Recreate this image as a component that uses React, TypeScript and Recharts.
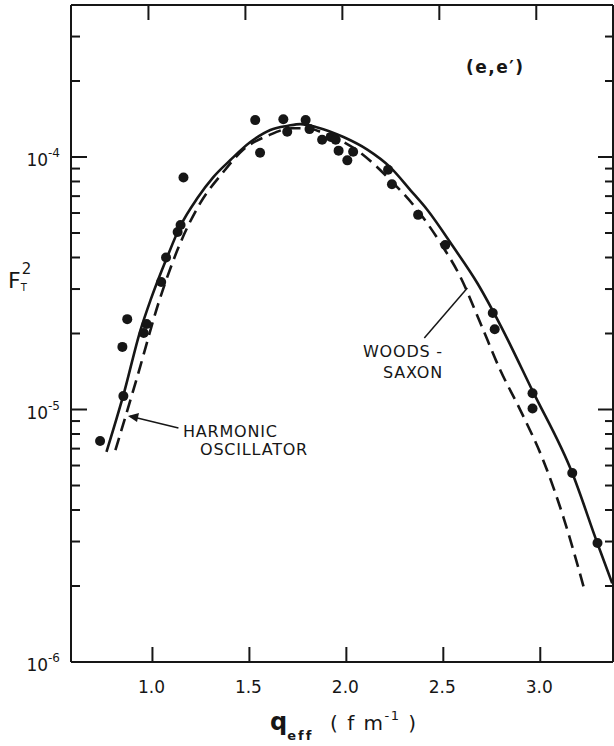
import { ComposedChart, Line, ReferenceLine, Scatter, XAxis, YAxis } from 'recharts';

// measured transverse form factor, (e,e') data
const obsQ = [0.73, 0.85, 0.845, 0.87, 0.955, 0.97, 1.045, 1.07, 1.13, 1.145, 1.16, 1.53, 1.555, 1.675, 1.695, 1.79, 1.81, 1.875, 1.92, 1.945, 1.96, 2.005, 2.035, 2.215, 2.235, 2.37, 2.51, 2.755, 2.765, 2.96, 2.96, 3.165, 3.295];
const obsF = [7.5e-6, 1.13e-5, 1.77e-5, 2.28e-5, 2.01e-5, 2.18e-5, 3.2e-5, 4.0e-5, 5.05e-5, 5.38e-5, 8.3e-5, 1.4e-4, 1.04e-4, 1.41e-4, 1.26e-4, 1.4e-4, 1.29e-4, 1.17e-4, 1.2e-4, 1.17e-4, 1.06e-4, 9.7e-5, 1.05e-4, 8.9e-5, 7.8e-5, 5.9e-5, 4.48e-5, 2.41e-5, 2.08e-5, 1.16e-5, 1.01e-5, 5.6e-6, 2.96e-6];

// Woods-Saxon calculation (solid)
const wsQ = [0.763, 0.85, 0.938, 0.99, 1.075, 1.144, 1.232, 1.314, 1.402, 1.505, 1.608, 1.7, 1.763, 1.851, 1.985, 2.108, 2.227, 2.33, 2.418, 2.552, 2.675, 2.794, 2.959, 3.165, 3.294, 3.371];
const wsF = [6.8e-6, 1.14e-5, 2.06e-5, 2.71e-5, 4.0e-5, 5.33e-5, 6.88e-5, 8.33e-5, 9.73e-5, 1.146e-4, 1.28e-4, 1.33e-4, 1.35e-4, 1.31e-4, 1.2e-4, 1.07e-4, 9.1e-5, 7.4e-5, 6.17e-5, 4.4e-5, 3.17e-5, 2.16e-5, 1.19e-5, 5.6e-6, 2.96e-6, 2.05e-6];

// harmonic oscillator calculation (dashed)
const hoQ = [0.809, 0.922, 1.036, 1.144, 1.247, 1.366, 1.469, 1.6, 1.72, 1.8, 1.881, 2.072, 2.211, 2.366, 2.485, 2.588, 2.691, 2.794, 2.897, 3.015, 3.119, 3.232];
const hoF = [6.9e-6, 1.35e-5, 2.71e-5, 4.57e-5, 6.58e-5, 8.73e-5, 1.07e-4, 1.22e-4, 1.3e-4, 1.3e-4, 1.245e-4, 1.04e-4, 8.33e-5, 6.17e-5, 4.57e-5, 3.35e-5, 2.2e-5, 1.43e-5, 9.95e-6, 6.3e-6, 3.75e-6, 1.88e-6];

const xTicks = [1.0, 1.5, 2.0, 2.5, 3.0];
const yMajor = [1e-6, 1e-5, 1e-4];
const yMinor = [
  2e-6, 3e-6, 4e-6, 5e-6, 6e-6, 7e-6, 8e-6, 9e-6,
  2e-5, 3e-5, 4e-5, 5e-5, 6e-5, 7e-5, 8e-5, 9e-5,
  2e-4, 3e-4,
];

// pointer lines from the curve names to the curves
const hoPointer = [{ x: 1.134, y: 8.45e-6 }, { x: 0.885, y: 9.4e-6 }];
const wsPointer = [{ x: 2.402, y: 1.92e-5 }, { x: 2.624, y: 3.03e-5 }];

const obs = obsQ.map((q, i) => ({ q, f: obsF[i] }));
const ws = wsQ.map((q, i) => ({ q, f: wsF[i] }));
const ho = hoQ.map((q, i) => ({ q, f: hoF[i] }));

const INK = '#161616';
const FONT = '"DejaVu Sans", sans-serif';
const Q_MIN = 0.58;
const Q_MAX = 3.375;
const F_MIN = 1e-6;
const F_MAX = 4e-4;

// inward ticks on the left frame, 10^-n on the decades
const LeftTick = (props: any) => {
  const { x, y, payload } = props;
  const v = payload.value;
  const major = yMajor.includes(v);
  return (
    <g>
      <line x1={x} x2={x + (major ? 16 : 9)} y1={y} y2={y} stroke={INK} strokeWidth={2} />
      {major && (
        <text x={x - 11} y={y + 9} textAnchor="end" fontFamily={FONT} fontSize={17} fill={INK}>
          10
          <tspan dy={-9} fontSize={12}>-{-Math.round(Math.log10(v))}</tspan>
        </text>
      )}
    </g>
  );
};

const RightTick = (props: any) => {
  const { x, y, payload } = props;
  const major = yMajor.includes(payload.value);
  return <line x1={x} x2={x - (major ? 15 : 8)} y1={y} y2={y} stroke={INK} strokeWidth={2} />;
};

const BottomTick = (props: any) => {
  const { x, y, payload } = props;
  return (
    <g>
      <line x1={x} x2={x} y1={y} y2={y - 15} stroke={INK} strokeWidth={2} />
      <text x={x - 1} y={y + 31} textAnchor="middle" fontFamily={FONT} fontSize={17} fill={INK}>
        {payload.value.toFixed(1)}
      </text>
    </g>
  );
};

const TopTick = (props: any) => {
  const { x, y } = props;
  return <line x1={x - 4} x2={x - 4} y1={y} y2={y + 15} stroke={INK} strokeWidth={2} />;
};

const Dot = (props: any) => <circle cx={props.cx} cy={props.cy} r={5} fill={INK} />;

const XTitle = () => (
  <g fontFamily={FONT} fill={INK}>
    <text x={270} y={730} fontSize={24} fontWeight="bold">
      q<tspan dy={10} fontSize={13} letterSpacing={2}>eff</tspan>
    </text>
    <text x={330} y={730} fontSize={20} letterSpacing={1.5}>
      ( f m<tspan dy={-10} fontSize={13}>-1</tspan><tspan dy={10}> )</tspan>
    </text>
  </g>
);

const YTitle = () => (
  <text x={8} y={288} fontFamily={FONT} fontSize={22} fill={INK}>
    F<tspan dy={3} fontSize={10}>T</tspan>
    <tspan dx={-5} dy={-17} fontSize={15}>2</tspan>
  </text>
);

const Reaction = () => (
  <text x={466} y={73} fontFamily={FONT} fontSize={17} fontWeight="bold" letterSpacing={1.5} fill={INK}>(e,e′)</text>
);

const HoNote = () => (
  <g fontFamily={FONT} fontSize={16} letterSpacing={0.8} fill={INK}>
    <text x={183} y={437}>HARMONIC</text>
    <text x={200} y={455}>OSCILLATOR</text>
    <polygon points="128,416 139,413 137,422" />
  </g>
);

const WsNote = () => (
  <g fontFamily={FONT} fontSize={16} letterSpacing={0.8} fill={INK}>
    <text x={363} y={357}>WOODS -</text>
    <text x={383} y={378}>SAXON</text>
  </g>
);

export default function App() {
  const axisLine = { stroke: INK, strokeWidth: 2 };
  const yTicks = yMajor.concat(yMinor);
  return (
    <div style={{ position: 'absolute', left: 0, top: 0, width: 614, height: 746, background: '#fff' }}>
      <ComposedChart width={614} height={746} margin={{ top: 0, right: 0, bottom: 0, left: 0 }}>
        <XAxis xAxisId="b" type="number" dataKey="q" domain={[Q_MIN, Q_MAX]} allowDataOverflow ticks={xTicks} interval={0}
          height={84} tickSize={0} tickMargin={0} tickLine={false} axisLine={axisLine} tick={BottomTick} label={XTitle} />
        <XAxis xAxisId="t" orientation="top" type="number" dataKey="q" domain={[Q_MIN, Q_MAX]} allowDataOverflow ticks={xTicks} interval={0}
          height={5} tickSize={0} tickMargin={0} tickLine={false} axisLine={axisLine} tick={TopTick} label={Reaction} />
        <YAxis yAxisId="l" type="number" scale="log" domain={[F_MIN, F_MAX]} allowDataOverflow ticks={yTicks} interval={0}
          width={71} tickSize={0} tickMargin={0} tickLine={false} axisLine={axisLine} tick={LeftTick} label={YTitle} />
        <YAxis yAxisId="r" orientation="right" type="number" scale="log" domain={[F_MIN, F_MAX]} allowDataOverflow ticks={yTicks} interval={0}
          width={1} tickSize={0} tickMargin={0} tickLine={false} axisLine={axisLine} tick={RightTick} />

        <ReferenceLine xAxisId="b" yAxisId="l" segment={hoPointer} stroke={INK} strokeWidth={1.5} ifOverflow="visible" label={HoNote} />
        <ReferenceLine xAxisId="b" yAxisId="l" segment={wsPointer} stroke={INK} strokeWidth={1.5} ifOverflow="visible" label={WsNote} />

        <Line xAxisId="b" yAxisId="l" data={ws} dataKey="f" type="monotone" stroke={INK} strokeWidth={2.6} dot={false} isAnimationActive={false} />
        <Line xAxisId="b" yAxisId="l" data={ho} dataKey="f" type="monotone" stroke={INK} strokeWidth={2.6} strokeDasharray="13 7" dot={false} isAnimationActive={false} />
        <Scatter xAxisId="b" yAxisId="l" data={obs} dataKey="f" shape={Dot} isAnimationActive={false} />
      </ComposedChart>
    </div>
  );
}
